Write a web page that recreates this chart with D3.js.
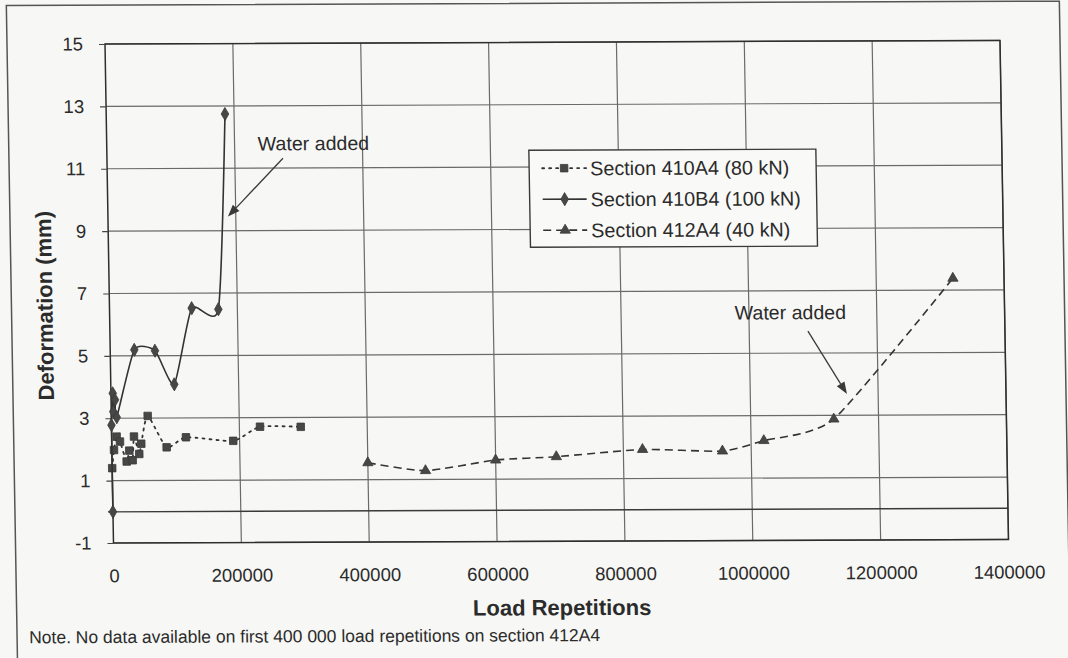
<!DOCTYPE html>
<html>
<head>
<meta charset="utf-8">
<script src="https://cdn.jsdelivr.net/npm/d3@7"></script>
<style>
  html, body { margin: 0; padding: 0; background: #f7f7f5; }
  svg { display: block; }
  text { font-family: "Liberation Sans", Arial, sans-serif; fill: #2b2b2b; }
</style>
</head>
<body>
<svg id="chart" width="1068" height="658"></svg>
<script>
// Axis ticks
const xTicks = [0, 200000, 400000, 600000, 800000, 1000000, 1200000, 1400000];
const yTicks = [-1, 1, 3, 5, 7, 9, 11, 13, 15];

// Series labels
const seriesNames = ["Section 410A4 (80 kN)", "Section 410B4 (100 kN)", "Section 412A4 (40 kN)"];

// Section 410A4 (80 kN): load repetitions and deformation (mm)
const reps410A4 = [0, 3300, 7800, 12900, 22800, 27200, 32200, 34900, 42700, 46100, 56900, 85700, 116200, 190000, 232300, 296000];
const def410A4  = [1.40, 1.98, 2.41, 2.25, 1.61, 1.96, 1.65, 2.41, 1.85, 2.18, 3.07, 2.06, 2.38, 2.26, 2.71, 2.70];

// Section 410B4 (100 kN)
const reps410B4 = [0, 0, 2800, 3200, 6200, 8400, 37700, 70000, 99300, 128600, 170200, 185800];
const def410B4  = [0, 2.78, 3.80, 3.21, 3.59, 3.03, 5.19, 5.16, 4.08, 6.52, 6.48, 12.74];

// Section 412A4 (40 kN)
const reps412A4 = [400000, 490000, 600000, 695000, 830000, 955000, 1020000, 1130000, 1320000];
const def412A4  = [1.54, 1.28, 1.61, 1.71, 1.93, 1.87, 2.20, 2.88, 7.38];

const ink = "#333333";
const markFill = "#474747";

const svg = d3.select("#chart");

// slight slant of the scanned sheet
const root = svg.append("g")
  .attr("transform", "matrix(1,-0.004,0.017,1,-0.75,0.42)");

// outer frame
root.append("rect")
  .attr("x", 7).attr("y", 5).attr("width", 1053).attr("height", 720)
  .attr("fill", "none").attr("stroke", "#555").attr("stroke-width", 1.5);

const plot = { left: 105, right: 1000, top: 44, bottom: 543 };

const x = d3.scaleLinear().domain([0, 1400000]).range([plot.left, plot.right]);
const y = d3.scaleLinear().domain([-1, 15]).range([plot.bottom, plot.top]);

// grid
const grid = root.append("g").attr("stroke", "#6a6a6a").attr("stroke-width", 1.2);
grid.selectAll("line.h").data(yTicks).join("line")
  .attr("x1", plot.left).attr("x2", plot.right)
  .attr("y1", d => y(d)).attr("y2", d => y(d));
grid.selectAll("line.v").data(xTicks.filter(d => d > 0)).join("line")
  .attr("y1", plot.top).attr("y2", plot.bottom)
  .attr("x1", d => x(d)).attr("x2", d => x(d));

// horizontal axis line at zero deformation
root.append("line")
  .attr("x1", plot.left - 5).attr("x2", plot.right)
  .attr("y1", y(0)).attr("y2", y(0))
  .attr("stroke", "#3a3a3a").attr("stroke-width", 1.4);

// plot frame
root.append("rect")
  .attr("x", plot.left).attr("y", plot.top)
  .attr("width", plot.right - plot.left).attr("height", plot.bottom - plot.top)
  .attr("fill", "none").attr("stroke", "#2e2e2e").attr("stroke-width", 1.5);

// y axis
const yAxis = root.append("g")
  .attr("transform", `translate(${plot.left},0)`)
  .call(d3.axisLeft(y).tickValues(yTicks).tickSize(6).tickPadding(16).tickFormat(d => String(d)));
yAxis.select(".domain").remove();
yAxis.selectAll(".tick line").attr("stroke", "#444").attr("stroke-width", 1.2);
yAxis.selectAll(".tick text").attr("font-size", 18.5).attr("fill", "#2b2b2b")
  .attr("font-family", "Liberation Sans, Arial, sans-serif");

// x axis labels along the bottom
const xAxis = root.append("g")
  .attr("transform", `translate(0,${plot.bottom})`)
  .call(d3.axisBottom(x).tickValues(xTicks).tickSize(0).tickPadding(26).tickFormat(d3.format("d")));
xAxis.select(".domain").remove();
xAxis.selectAll(".tick text").attr("font-size", 18.5).attr("fill", "#2b2b2b")
  .attr("font-family", "Liberation Sans, Arial, sans-serif");

// axis titles
root.append("text")
  .attr("x", (plot.left + plot.right) / 2).attr("y", 617)
  .attr("text-anchor", "middle").attr("font-size", 22).attr("font-weight", "bold")
  .text("Load Repetitions");
root.append("text")
  .attr("transform", `translate(48,${(plot.top + plot.bottom) / 2 + 12}) rotate(-90)`)
  .attr("text-anchor", "middle").attr("font-size", 22).attr("font-weight", "bold")
  .text("Deformation (mm)");

// note
root.append("text")
  .attr("x", 19).attr("y", 643)
  .attr("font-size", 17.5)
  .text("Note. No data available on first 400 000 load repetitions on section 412A4");

// marker shapes
const sym = {
  square: d3.symbol().type(d3.symbolSquare).size(56),
  diamond: d3.symbol().type(d3.symbolDiamond).size(50),
  triangle: d3.symbol().type(d3.symbolTriangle).size(46)
};

const series = [
  { name: seriesNames[0], reps: reps410A4, def: def410A4, dash: "2,5", width: 1.8, marker: "square" },
  { name: seriesNames[1], reps: reps410B4, def: def410B4, dash: null, width: 1.6, marker: "diamond" },
  { name: seriesNames[2], reps: reps412A4, def: def412A4, dash: "8,5", width: 1.6, marker: "triangle" }
];

// smoothed lines
const line = d3.line()
  .x(d => x(d[0])).y(d => y(d[1]))
  .curve(d3.curveCardinal.tension(0.4));

const marks = root.append("g");
series.forEach(s => {
  const pts = s.reps.map((r, i) => [r, s.def[i]]);
  marks.append("path")
    .attr("d", line(pts))
    .attr("fill", "none").attr("stroke", ink).attr("stroke-width", s.width)
    .attr("stroke-dasharray", s.dash)
    .attr("stroke-linecap", s.marker === "square" ? "round" : "butt");
  marks.selectAll(null).data(pts).join("path")
    .attr("d", sym[s.marker]())
    .attr("transform", d => `translate(${x(d[0])},${y(d[1])})`)
    .attr("fill", markFill).attr("stroke", "#3a3a3a").attr("stroke-width", 0.8);
});

// legend
const lg = root.append("g");
lg.append("rect")
  .attr("x", 527).attr("y", 152).attr("width", 287).attr("height", 97)
  .attr("fill", "#f9f9f7").attr("stroke", "#3a3a3a").attr("stroke-width", 1.4);
series.forEach((s, i) => {
  const cy = 170 + i * 31;
  lg.append("line")
    .attr("x1", 540).attr("x2", 584).attr("y1", cy).attr("y2", cy)
    .attr("stroke", ink).attr("stroke-width", s.width)
    .attr("stroke-dasharray", s.dash)
    .attr("stroke-linecap", s.marker === "square" ? "round" : "butt");
  lg.append("path")
    .attr("d", sym[s.marker]())
    .attr("transform", `translate(562,${cy})`)
    .attr("fill", markFill).attr("stroke", "#3a3a3a").attr("stroke-width", 0.8);
  lg.append("text")
    .attr("x", 588).attr("y", cy).attr("dy", "0.36em")
    .attr("font-size", 19.8)
    .text(s.name);
});

// annotations with arrows
const notes = [
  { label: "Water added", tx: 256, ty: 151, from: [281, 159], to: [225, 217] },
  { label: "Water added", tx: 730, ty: 322, from: [803, 334], to: [841, 397] }
];
notes.forEach(n => {
  root.append("text").attr("x", n.tx).attr("y", n.ty).attr("font-size", 19.6).text(n.label);
  const [x1, y1] = n.from, [x2, y2] = n.to;
  const ang = Math.atan2(y2 - y1, x2 - x1);
  const len = 12, hw = 4.5;
  const bx = x2 - len * Math.cos(ang), by = y2 - len * Math.sin(ang);
  root.append("line")
    .attr("x1", x1).attr("y1", y1).attr("x2", bx).attr("y2", by)
    .attr("stroke", "#3a3a3a").attr("stroke-width", 1.3);
  root.append("path")
    .attr("d", `M${x2},${y2}L${bx + hw * Math.sin(ang)},${by - hw * Math.cos(ang)}L${bx - hw * Math.sin(ang)},${by + hw * Math.cos(ang)}Z`)
    .attr("fill", "#3a3a3a");
});
</script>
</body>
</html>
